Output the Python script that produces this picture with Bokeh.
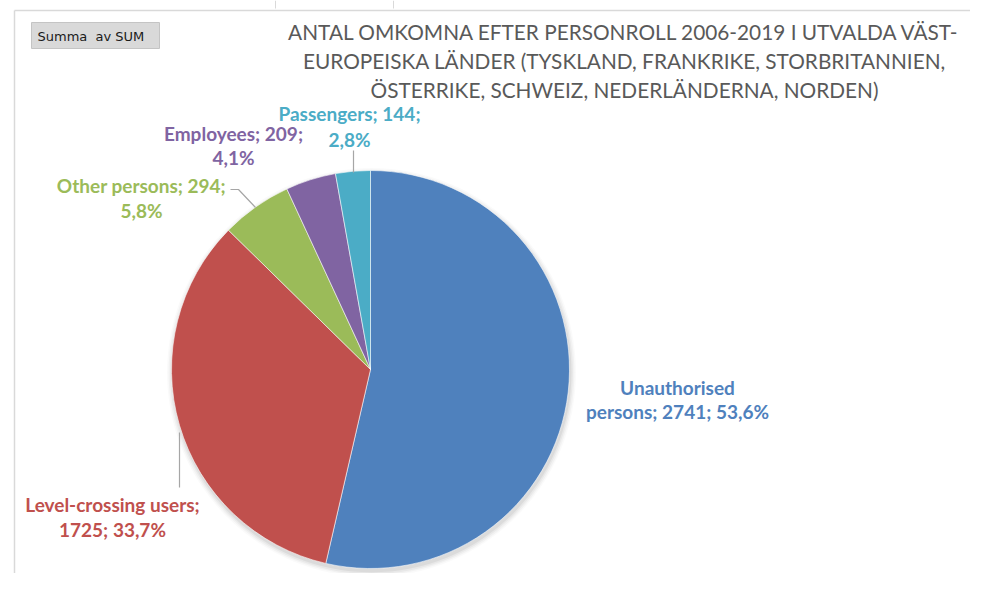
import math
from bokeh.plotting import figure
from bokeh.models import Range1d
from bokeh.core.properties import value
from bokeh.embed import file_html
from bokeh.resources import INLINE

# ---- data ----
categories = ["Unauthorised persons", "Level-crossing users", "Other persons", "Employees", "Passengers"]
deaths = [2741, 1725, 294, 209, 144]
colors = ["#4F81BD", "#C0504D", "#9BBB59", "#8064A2", "#4BACC6"]
first_line_words = [1, 2, 3, 2, 2]
title_lines = [
    "ANTAL OMKOMNA EFTER PERSONROLL 2006-2019 I UTVALDA VÄST-",
    "EUROPEISKA LÄNDER (TYSKLAND, FRANKRIKE, STORBRITANNIEN,",
    "ÖSTERRIKE, SCHWEIZ, NEDERLÄNDERNA, NORDEN)",
]
button_text = "Summa\u00a0\u00a0av SUM"

# ---- layout (reference pixel coords; y measured from top) ----
W, H = 986, 589
def Y(y):
    return H - y

cx, cy, R = 370, 369, 199
label_pos = [  # (x, y line1, y line2)
    (677, 387, 411),
    (112, 504, 529),
    (141, 185, 210),
    (233, 133, 157),
    (349, 113, 139),
]
leaders = [
    None,
    ([179, 179], [432, 487]),
    ([230, 238, 255], [189, 189, 207]),
    None,
    ([353, 353], [150, 172]),
]

p = figure(width=970, height=573, x_range=Range1d(0, 970), y_range=Range1d(H - 573, H),
           output_backend="svg", toolbar_location=None, min_border=0)
p.axis.visible = False
p.grid.visible = False
p.outline_line_color = None
p.background_fill_color = "white"

# frame lines
p.line([14, 14], [Y(10), Y(589)], line_color="#d9d9d9", line_width=1.5)
p.line([14, 986], [Y(10), Y(10)], line_color="#d9d9d9", line_width=1.5)
# small cell ticks at top
for tx in (275, 393):
    p.line([tx, tx], [Y(0), Y(8)], line_color="#d9d9d9", line_width=1)

# button
p.quad(left=31, right=159, top=Y(22), bottom=Y(48), fill_color="#d9d9d9",
       line_color="#c4c4c4", line_width=1)
p.text(x=[37], y=[Y(35.5)], text=[button_text], text_align="left", text_baseline="middle",
       text_font=value("DejaVu Sans"), text_font_size="13px", text_color="#1a1a1a")

# title
for i, t in enumerate(title_lines):
    p.text(x=[624], y=[Y(31 + 29 * i)], text=[t], text_align="center", text_baseline="middle",
           text_font=value("Lato"), text_font_size="20.8px", text_color="#595959")

# shadow
for k, a in enumerate([0.05, 0.04, 0.03, 0.02]):
    p.circle(x=[cx + 1], y=[Y(cy + 3)], radius=R + 1 + k * 1.5, fill_color="black",
             fill_alpha=a, line_color=None)

total = sum(deaths)
cum = 0.0
for i, v in enumerate(deaths):
    a0 = math.pi / 2 - 2 * math.pi * cum / total
    cum += v
    a1 = math.pi / 2 - 2 * math.pi * cum / total
    p.wedge(x=[cx], y=[Y(cy)], radius=R, start_angle=a1, end_angle=a0,
            fill_color=colors[i], line_color="white", line_width=0.8, line_alpha=0.7)

# leader lines
for ld in leaders:
    if ld:
        p.line(ld[0], [Y(y) for y in ld[1]], line_color="#a6a6a6", line_width=1.2)

# labels
for i, (name, v) in enumerate(zip(categories, deaths)):
    pct = f"{100 * v / total:.1f}%".replace(".", ",")
    words = f"{name}; {v}; {pct}".split(" ")
    l1 = " ".join(words[:first_line_words[i]])
    l2 = " ".join(words[first_line_words[i]:])
    x, y1, y2 = label_pos[i]
    p.text(x=[x, x], y=[Y(y1), Y(y2)], text=[l1, l2], text_align="center", text_baseline="middle",
           text_font=value("Lato"), text_font_style="bold", text_font_size="19px",
           text_color=colors[i])

open("out.html", "w").write(file_html(p, INLINE))
